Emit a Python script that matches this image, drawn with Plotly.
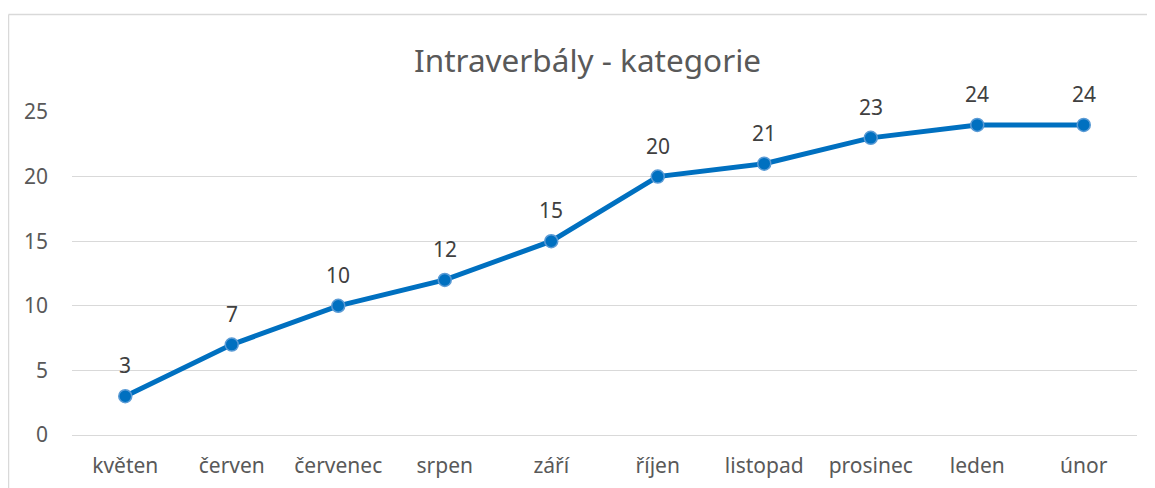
import plotly.graph_objects as go

months = ["květen", "červen", "červenec", "srpen", "září", "říjen", "listopad", "prosinec", "leden", "únor"]
values = [3, 7, 10, 12, 15, 20, 21, 23, 24, 24]
y_ticks = [0, 5, 10, 15, 20, 25]
title_text = "Intraverbály - kategorie"

W, H = 1155, 488
OFF = 8  # page body offset
L, R, T, B = 72 - OFF, 18 + OFF, 112 - OFF, 53 + OFF
pw, ph = W - L - R, H - T - B

def px_x(p):
    return (p - OFF - L) / pw

def px_y(p):
    return (H - B - (p - OFF)) / ph

font_fam = "Noto Sans, Open Sans, sans-serif"
txt_col = "#595959"
border_col = "#D9D9D9"

fig = go.Figure()
fig.add_trace(go.Scatter(
    x=months, y=values, mode="lines+markers",
    line=dict(color="#0070C0", width=5),
    marker=dict(size=13, color="#0070C0", line=dict(color="#5B9BD5", width=1.5)),
    hoverinfo="skip", showlegend=False,
))

for m, v in zip(months, values):
    fig.add_annotation(x=m, y=v, text=str(v), showarrow=False, yshift=31,
                       font=dict(family=font_fam, size=21, color="#404040"))

fig.add_annotation(x=px_x(587), y=px_y(60), xref="paper", yref="paper", text=title_text,
                   showarrow=False, xanchor="center", yanchor="middle",
                   font=dict(family=font_fam, size=31.5, color=txt_col))

# chart-area border (top and left edges visible in the crop)
fig.add_shape(type="line", xref="paper", yref="paper",
              x0=px_x(8.5), x1=px_x(1175), y0=px_y(14.5), y1=px_y(14.5),
              line=dict(color=border_col, width=1.5), layer="below")
fig.add_shape(type="line", xref="paper", yref="paper",
              x0=px_x(8.5), x1=px_x(8.5), y0=px_y(14.5), y1=px_y(505),
              line=dict(color=border_col, width=1.5), layer="below")

fig.update_layout(
    width=W, height=H,
    margin=dict(l=L, r=R, t=T, b=B, pad=0),
    paper_bgcolor="white", plot_bgcolor="white",
    font=dict(family=font_fam, size=21, color=txt_col),
)
fig.update_xaxes(
    type="category", range=[-0.5, len(months) - 0.5],
    showgrid=False, showline=False, zeroline=False, ticks="",
    tickfont=dict(size=21, color=txt_col), ticklabelstandoff=16,
)
fig.update_yaxes(
    range=[0, 25], tickvals=y_ticks, showgrid=True, gridcolor="#D9D9D9", gridwidth=1,
    zeroline=True, zerolinecolor="#D9D9D9", zerolinewidth=1, showline=False, ticks="",
    tickfont=dict(size=21, color=txt_col), ticklabelstandoff=23,
)

fig.write_html("out.html")
